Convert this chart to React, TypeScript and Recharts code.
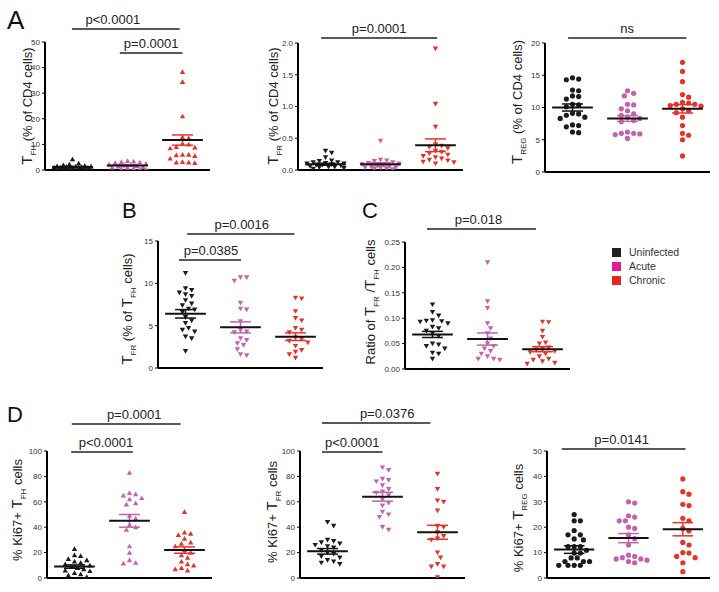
import React from 'react';
import { ScatterChart, Scatter, XAxis, YAxis, ReferenceLine } from 'recharts';

const groups = ['Uninfected', 'Acute', 'Chronic'];
const pointColors = ['#1c1c1c', '#c462ad', '#e6332a'];
const legendColors = ['#222222', '#e5168f', '#e52521'];

// A: Tfh, Tfr, Treg as % of CD4
const uninfA1 = [4.2, 2.6, 2.2, 1.9, 1.7, 1.5, 1.4, 1.3, 1.2, 1.1, 1.0, 1.0, 0.9, 0.8, 0.7, 0.6, 0.5, 0.4, 0.3, 0.2];
const acuteA1 = [3.6, 3.4, 3.2, 3.0, 2.8, 2.5, 2.2, 2.0, 1.8, 1.6, 1.4, 1.2, 1.0, 0.9, 0.7, 0.5, 0.4, 0.3];
const chronicA1 = [38.3, 34.4, 21.0, 12.8, 12.5, 10.3, 10.0, 9.0, 8.8, 8.5, 6.0, 6.0, 5.8, 5.5, 4.5, 3.2, 3.0, 3.0, 2.8];
const meanA1 = [1.2, 1.8, 11.7];
const semA1 = [0.2, 0.25, 2.0];

const uninfA2 = [0.3, 0.27, 0.2, 0.15, 0.14, 0.12, 0.12, 0.11, 0.1, 0.1, 0.09, 0.08, 0.08, 0.07, 0.06, 0.05, 0.05, 0.04, 0.03, 0.02];
const acuteA2 = [0.46, 0.16, 0.15, 0.14, 0.12, 0.11, 0.1, 0.09, 0.08, 0.07, 0.06, 0.05, 0.04, 0.04, 0.03, 0.02, 0.02, 0.01];
const chronicA2 = [1.91, 1.04, 0.68, 0.4, 0.38, 0.36, 0.34, 0.3, 0.28, 0.26, 0.24, 0.22, 0.2, 0.18, 0.16, 0.15, 0.13, 0.12, 0.1];
const meanA2 = [0.09, 0.09, 0.39];
const semA2 = [0.015, 0.025, 0.1];

const uninfA3 = [14.6, 14.4, 14.3, 12.7, 12.6, 11.8, 11.7, 11.3, 10.5, 10.4, 10.1, 9.1, 9.0, 8.8, 8.5, 8.3, 7.3, 7.2, 7.0, 6.2, 6.1];
const acuteA3 = [12.6, 12.2, 11.8, 10.5, 10.4, 9.8, 9.5, 9.0, 8.8, 8.5, 8.3, 8.0, 7.8, 6.2, 6.0, 6.0, 5.9, 5.8, 5.2];
const chronicA3 = [17.0, 15.6, 14.0, 12.0, 11.6, 10.8, 10.7, 10.5, 10.5, 10.3, 10.2, 9.8, 9.5, 9.2, 8.5, 7.2, 6.0, 5.7, 5.0, 2.5];
const meanA3 = [10.0, 8.3, 9.8];
const semA3 = [0.55, 0.45, 0.65];

// B: Tfr as % of Tfh
const uninfB = [11.2, 9.4, 9.2, 8.9, 8.7, 8.5, 8.0, 7.6, 7.4, 7.0, 6.9, 6.6, 6.0, 5.6, 5.3, 4.7, 4.5, 4.3, 3.7, 3.5, 2.0];
const acuteB = [10.7, 10.7, 10.3, 7.7, 7.0, 6.9, 5.5, 4.5, 4.3, 4.2, 3.5, 3.3, 2.9, 2.7, 2.2, 1.6, 1.5];
const chronicB = [8.3, 8.2, 6.7, 5.9, 5.6, 4.7, 4.5, 4.2, 3.6, 3.4, 3.2, 3.0, 2.6, 2.1, 1.9, 1.6, 1.2];
const meanB = [6.4, 4.8, 3.7];
const semB = [0.5, 0.65, 0.45];

// C: Tfr / Tfh ratio
const uninfC = [0.127, 0.112, 0.105, 0.096, 0.095, 0.094, 0.093, 0.09, 0.083, 0.08, 0.075, 0.07, 0.065, 0.05, 0.048, 0.045, 0.04, 0.032, 0.03, 0.02];
const acuteC = [0.21, 0.133, 0.12, 0.09, 0.08, 0.07, 0.06, 0.05, 0.045, 0.04, 0.035, 0.03, 0.025, 0.02, 0.02, 0.018];
const chronicC = [0.093, 0.092, 0.075, 0.063, 0.052, 0.05, 0.042, 0.04, 0.038, 0.035, 0.033, 0.03, 0.025, 0.02, 0.018, 0.015, 0.012, 0.01];
const meanC = [0.068, 0.059, 0.039];
const semC = [0.006, 0.012, 0.005];

// D: Ki67+ fractions
const uninfD1 = [23, 18, 17.5, 15, 14, 13, 12, 11, 10, 9, 8, 7, 6, 5.5, 4, 3, 2, 1];
const acuteD1 = [83, 67, 66, 65, 63, 62, 59, 58, 49, 47, 42, 40, 38, 25, 20, 14, 12, 11.5];
const chronicD1 = [52, 36, 35, 34, 31, 28, 27, 25, 22, 20, 18, 16, 13, 11, 10, 8, 7, 6];
const meanD1 = [9, 45, 22];
const semD1 = [1.3, 5, 2.5];

const uninfD2 = [44, 41, 30, 29, 28, 27, 26, 25, 24, 22, 20, 19, 17, 16, 14, 13, 12, 11];
const acuteD2 = [87, 85, 78, 77, 76, 73, 70, 68, 67, 65, 62, 59, 57, 52, 50, 48, 40, 38];
const chronicD2 = [82, 70, 61, 60, 53, 41, 40, 36, 33, 31, 30, 20, 16, 11, 9, 9, 0.5];
const meanD2 = [21, 64, 36];
const semD2 = [2.2, 3.5, 5.5];

const uninfD3 = [25, 22.5, 22.5, 18.7, 17, 17, 15.4, 15, 12.4, 12.4, 12.4, 10.9, 9.8, 9.8, 7.9, 7.9, 6.5, 6.5, 6.5, 5, 5, 5, 5];
const acuteD3 = [30, 29.5, 24.5, 24, 22.5, 22.5, 20, 19.5, 17, 15.5, 13, 9, 8.5, 8, 7.5, 7.5, 7, 6.5, 6];
const chronicD3 = [39, 34, 33, 29, 28.5, 23.5, 22.5, 19.5, 18.5, 14, 13, 10, 9.8, 8.5, 8, 6, 2.5];
const meanD3 = [11.2, 15.7, 19.2];
const semD3 = [1.5, 1.8, 2.6];

const sigTextA1 = ['p<0.0001', 'p=0.0001'];
const sigTextA2 = ['p=0.0001'];
const sigTextA3 = ['ns'];
const sigTextB = ['p=0.0016', 'p=0.0385'];
const sigTextC = ['p=0.018'];
const sigTextD1 = ['p=0.0001', 'p<0.0001'];
const sigTextD2 = ['p=0.0376', 'p<0.0001'];
const sigTextD3 = ['p=0.0141'];

type Part = [string, 'big' | 'sub' | 'n'];
type Sig = { text: string; from: number; to: number; py: number; dx: number };
type Panel = {
  key: string;
  values: number[][];
  mean: number[];
  sem: number[];
  yMax: number;
  ticks: number[];
  digits: number;
  marker: 'up' | 'down' | 'circle';
  title: Part[];
  box: [number, number, number, number]; // plot left, top, right, bottom (page px)
  titleX: number;
  titleY: number;
  sigs: Sig[];
};

const T = (sub: string): Part[] => [['T', 'big'], [sub, 'sub']];

const panels: Panel[] = [
  {
    key: 'a1', values: [uninfA1, acuteA1, chronicA1], mean: meanA1, sem: semA1,
    yMax: 50, ticks: [0, 10, 20, 30, 40, 50], digits: 0, marker: 'up',
    title: [...T('FH'), [' (% of CD4 cells)', 'n']],
    box: [45, 42, 210, 170], titleX: 32, titleY: 106,
    sigs: [
      { text: sigTextA1[0], from: 0.99, to: 2.95, py: 29, dx: -13 },
      { text: sigTextA1[1], from: 1.86, to: 3.0, py: 53, dx: 0 },
    ],
  },
  {
    key: 'a2', values: [uninfA2, acuteA2, chronicA2], mean: meanA2, sem: semA2,
    yMax: 2, ticks: [0, 0.5, 1, 1.5, 2], digits: 1, marker: 'down',
    title: [...T('FR'), [' (% of CD4 cells)', 'n']],
    box: [298, 43, 463, 170], titleX: 278, titleY: 106,
    sigs: [{ text: sigTextA2[0], from: 0.92, to: 3.03, py: 38, dx: 0 }],
  },
  {
    key: 'a3', values: [uninfA3, acuteA3, chronicA3], mean: meanA3, sem: semA3,
    yMax: 20, ticks: [0, 5, 10, 15, 20], digits: 0, marker: 'circle',
    title: [...T('REG'), [' (% of CD4 cells)', 'n']],
    box: [545, 43, 710, 172], titleX: 522, titleY: 102,
    sigs: [{ text: sigTextA3[0], from: 0.92, to: 3.07, py: 38, dx: 0 }],
  },
  {
    key: 'b', values: [uninfB, acuteB, chronicB], mean: meanB, sem: semB,
    yMax: 15, ticks: [0, 5, 10, 15], digits: 0, marker: 'down',
    title: [...T('FR'), [' (% of ', 'n'], ...T('FH'), [' cells)', 'n']],
    box: [158, 241, 323, 368], titleX: 132, titleY: 309,
    sigs: [
      { text: sigTextB[0], from: 1.03, to: 2.98, py: 234, dx: 1 },
      { text: sigTextB[1], from: 0.88, to: 2.01, py: 260, dx: 1 },
    ],
  },
  {
    key: 'c', values: [uninfC, acuteC, chronicC], mean: meanC, sem: semC,
    yMax: 0.25, ticks: [0, 0.05, 0.1, 0.15, 0.2, 0.25], digits: 2, marker: 'down',
    title: [['Ratio of ', 'n'], ...T('FR'), [' /', 'n'], ...T('FH'), [' cells', 'n']],
    box: [405, 242, 570, 369], titleX: 375, titleY: 302,
    sigs: [{ text: sigTextC[0], from: 0.9, to: 2.88, py: 229, dx: -3 }],
  },
  {
    key: 'd1', values: [uninfD1, acuteD1, chronicD1], mean: meanD1, sem: semD1,
    yMax: 100, ticks: [0, 20, 40, 60, 80, 100], digits: 0, marker: 'up',
    title: [['% Ki67+ ', 'n'], ...T('FH'), [' cells', 'n']],
    box: [47, 451, 212, 578], titleX: 22, titleY: 510,
    sigs: [
      { text: sigTextD1[0], from: 0.95, to: 2.93, py: 424, dx: 8 },
      { text: sigTextD1[1], from: 0.94, to: 2.06, py: 452, dx: 4 },
    ],
  },
  {
    key: 'd2', values: [uninfD2, acuteD2, chronicD2], mean: meanD2, sem: semD2,
    yMax: 100, ticks: [0, 20, 40, 60, 80, 100], digits: 0, marker: 'down',
    title: [['% Ki67+ ', 'n'], ...T('FR'), [' cells', 'n']],
    box: [300, 451, 465, 578], titleX: 277, titleY: 512,
    sigs: [
      { text: sigTextD2[0], from: 0.9, to: 2.87, py: 423, dx: 11 },
      { text: sigTextD2[1], from: 0.9, to: 2.0, py: 452, dx: 0 },
    ],
  },
  {
    key: 'd3', values: [uninfD3, acuteD3, chronicD3], mean: meanD3, sem: semD3,
    yMax: 50, ticks: [0, 10, 20, 30, 40, 50], digits: 0, marker: 'circle',
    title: [['% Ki67+ ', 'n'], ...T('REG'), [' cells', 'n']],
    box: [547, 451, 710, 578], titleX: 523, titleY: 518,
    sigs: [{ text: sigTextD3[0], from: 0.77, to: 3.05, py: 449, dx: -2 }],
  },
];

const letters = [
  { t: 'A', x: 7, y: 7, size: 26 },
  { t: 'B', x: 122, y: 200, size: 22 },
  { t: 'C', x: 362, y: 200, size: 22 },
  { t: 'D', x: 7, y: 404, size: 22 },
];

const PAD_L = 45;
const PAD_T = 55;
const PAD_R = 8;
const PAD_B = 12;
const MAX_SPREAD = 19; // px either side of the category

// beeswarm-ish: spread points sideways, capped width; overlap when crowded
function swarm(values: number[], pxPerY: number, pxPerX: number, d: number): number[] {
  const order = values.map((_, i) => i).sort((a, b) => values[b] - values[a]);
  const placed: { x: number; y: number }[] = [];
  const out = values.map(() => 0);
  const step = d * 0.55;
  const maxM = Math.floor(MAX_SPREAD / step);
  order.forEach((i) => {
    const y = values[i] * pxPerY;
    let best = 0;
    let bestDist = -1;
    for (let k = 0; k <= maxM * 2; k++) {
      const m = k === 0 ? 0 : k % 2 === 1 ? Math.ceil(k / 2) : -k / 2;
      const x = m * step;
      const dist = placed.reduce((acc, p) => Math.min(acc, Math.hypot(p.x - x, p.y - y)), Infinity);
      if (dist >= d) {
        best = x;
        bestDist = Infinity;
        break;
      }
      if (dist > bestDist + 0.01) {
        bestDist = dist;
        best = x;
      }
    }
    placed.push({ x: best, y });
    out[i] = best / pxPerX;
  });
  return out;
}

const makeMarker = (kind: string, color: string) => (props: any) => {
  const { cx, cy } = props;
  if (cx == null || cy == null) return <g />;
  if (kind === 'circle') return <circle cx={cx} cy={cy} r={2.6} fill={color} />;
  if (kind === 'up')
    return <path d={`M${cx - 2.7},${cy + 2.1}L${cx + 2.7},${cy + 2.1}L${cx},${cy - 2.6}Z`} fill={color} />;
  return <path d={`M${cx - 2.7},${cy - 2.1}L${cx + 2.7},${cy - 2.1}L${cx},${cy + 2.6}Z`} fill={color} />;
};

const AxisTitle = ({ x, y, parts }: { x: number; y: number; parts: Part[] }) => {
  let shift = 0;
  return (
    <text transform={`translate(${x},${y}) rotate(-90)`} textAnchor="middle" fontSize={13} fill="#222">
      {parts.map(([t, kind], i) => {
        const target = kind === 'sub' ? 3.5 : 0;
        const dy = target - shift;
        shift = target;
        const fs = kind === 'big' ? 15 : kind === 'sub' ? 8 : 13;
        return (
          <tspan key={i} dy={dy} fontSize={fs}>
            {t}
          </tspan>
        );
      })}
    </text>
  );
};

const PanelChart = ({ p }: { p: Panel }) => {
  const [left, top, right, bottom] = p.box;
  const width = right - left + PAD_L + PAD_R;
  const height = bottom - top + PAD_T + PAD_B;
  const plotH = bottom - top;
  const pxPerY = plotH / p.yMax;
  const pxPerX = (right - left) / 3;
  const levelOf = (py: number) => ((bottom - py) / plotH) * p.yMax;
  const marker = p.marker;

  const series = p.values.map((vals, g) => {
    const offs = swarm(vals, pxPerY, pxPerX, 5.6);
    return vals.map((v, i) => ({ x: g + 1 + offs[i], y: v }));
  });

  return (
    <div style={{ position: 'absolute', left: left - PAD_L, top: top - PAD_T, width, height }}>
      <ScatterChart width={width} height={height} margin={{ top: PAD_T, right: PAD_R, bottom: 4, left: PAD_L - 20 }}>
        <XAxis
          type="number"
          dataKey="x"
          domain={[0.5, 3.5]}
          ticks={[1, 2, 3]}
          allowDataOverflow
          height={8}
          tick={false}
          tickSize={4}
          axisLine={{ stroke: '#000', strokeWidth: 2 }}
          tickLine={{ stroke: '#000', strokeWidth: 1.5 }}
        />
        <YAxis
          type="number"
          dataKey="y"
          domain={[0, p.yMax]}
          ticks={p.ticks}
          allowDataOverflow
          width={20}
          tickSize={3}
          tickFormatter={(v: number) => v.toFixed(p.digits)}
          tick={{ fontSize: 8, fill: '#333' }}
          axisLine={{ stroke: '#000', strokeWidth: 2 }}
          tickLine={{ stroke: '#000', strokeWidth: 1 }}
        />
        {series.map((data, g) => (
          <Scatter
            key={groups[g]}
            name={groups[g]}
            data={data}
            isAnimationActive={false}
            shape={makeMarker(marker, pointColors[g])}
          />
        ))}
        {p.mean.map((m, g) => {
          const c = g + 1;
          const s = p.sem[g];
          const col = g === 0 ? '#111' : pointColors[g];
          return (
            <React.Fragment key={`ms-${g}`}>
              <ReferenceLine segment={[{ x: c, y: m - s }, { x: c, y: m + s }]} stroke={col} strokeWidth={1.5} ifOverflow="visible" zIndex={700} />
              <ReferenceLine segment={[{ x: c - 0.19, y: m + s }, { x: c + 0.19, y: m + s }]} stroke={col} strokeWidth={1.5} ifOverflow="visible" zIndex={700} />
              <ReferenceLine segment={[{ x: c - 0.19, y: m - s }, { x: c + 0.19, y: m - s }]} stroke={col} strokeWidth={1.5} ifOverflow="visible" zIndex={700} />
              <ReferenceLine segment={[{ x: c - 0.37, y: m }, { x: c + 0.37, y: m }]} stroke="#111" strokeWidth={2} ifOverflow="visible" zIndex={710} />
            </React.Fragment>
          );
        })}
        {p.sigs.map((s, i) => (
          <ReferenceLine
            key={`sig-${i}`}
            segment={[{ x: s.from, y: levelOf(s.py) }, { x: s.to, y: levelOf(s.py) }]}
            stroke="#222"
            strokeWidth={1.6}
            ifOverflow="visible"
            label={{ value: s.text, position: 'top', offset: 5, fontSize: 13, fill: '#222', dx: s.dx }}
          />
        ))}
      </ScatterChart>
      <svg
        width={width}
        height={height}
        style={{ position: 'absolute', left: 0, top: 0, overflow: 'visible', pointerEvents: 'none' }}
      >
        <AxisTitle x={p.titleX - (left - PAD_L)} y={p.titleY - (top - PAD_T)} parts={p.title} />
      </svg>
    </div>
  );
};

export default function App() {
  return (
    <div
      style={{
        position: 'relative',
        width: 719,
        height: 592,
        background: '#fff',
        overflow: 'hidden',
        fontFamily: '"Liberation Sans", Arial, Helvetica, sans-serif',
      }}
    >
      <style>{'body{margin:0;}'}</style>
      {panels.map((p) => (
        <PanelChart key={p.key} p={p} />
      ))}
      {letters.map((l) => (
        <div
          key={l.t}
          style={{ position: 'absolute', left: l.x, top: l.y, fontSize: l.size, lineHeight: 1, color: '#111' }}
        >
          {l.t}
        </div>
      ))}
      {groups.map((g, i) => (
        <div key={g} style={{ position: 'absolute', left: 612, top: 247 + i * 14, height: 10, display: 'flex', alignItems: 'center' }}>
          <div style={{ width: 9, height: 9, background: legendColors[i] }} />
          <span style={{ marginLeft: 8, fontSize: 10.5, color: '#333' }}>{g}</span>
        </div>
      ))}
    </div>
  );
}
